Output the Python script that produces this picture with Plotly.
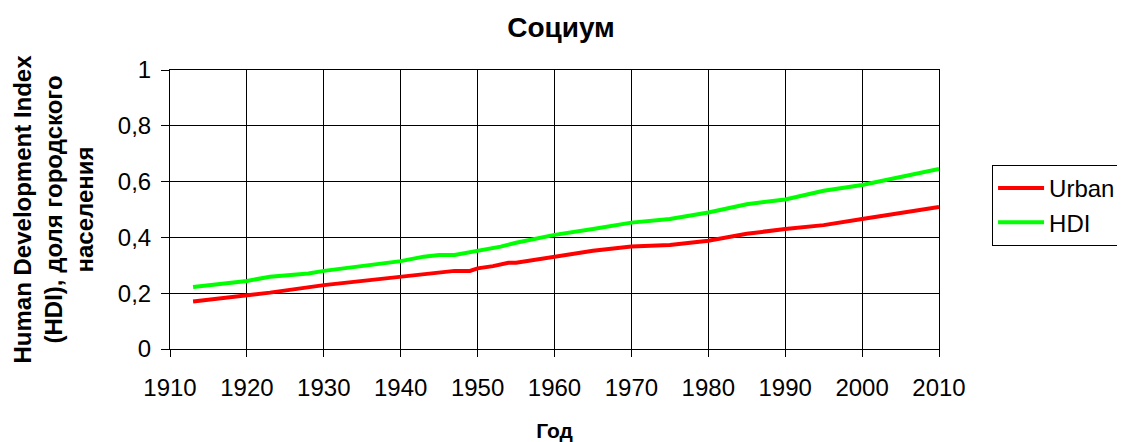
import plotly.graph_objects as go

# Data
urban_years = [1913, 1920, 1923, 1930, 1935, 1940, 1945, 1947, 1949, 1950, 1952, 1954,
               1955, 1960, 1965, 1970, 1975, 1980, 1985, 1990, 1995, 2000, 2010]
urban_values = [0.170, 0.192, 0.202, 0.229, 0.243, 0.257, 0.272, 0.280, 0.280, 0.289, 0.297, 0.309,
                0.309, 0.331, 0.352, 0.367, 0.373, 0.388, 0.413, 0.430, 0.444, 0.466, 0.509]

hdi_years = [1913, 1920, 1923, 1928, 1930, 1934, 1938, 1940, 1943, 1945, 1947, 1950,
             1953, 1955, 1960, 1965, 1970, 1975, 1980, 1985, 1990, 1995, 2000, 2010]
hdi_values = [0.222, 0.244, 0.259, 0.271, 0.280, 0.295, 0.307, 0.315, 0.331, 0.337, 0.337, 0.352,
              0.367, 0.381, 0.409, 0.430, 0.453, 0.466, 0.489, 0.519, 0.536, 0.567, 0.588, 0.645]

x_ticks = [1910, 1920, 1930, 1940, 1950, 1960, 1970, 1980, 1990, 2000, 2010]
y_ticks = [0, 0.2, 0.4, 0.6, 0.8, 1]
y_title_lines = ["Human Development Index", "(HDI), доля городского", "населения"]

FONT = "Liberation Sans, Arial, sans-serif"
# page body has an 8px margin, so the figure is drawn 8px smaller and offset
W, H = 1117, 434
PLOT_L, PLOT_W = 170, 769
y_title_px = [22, 53, 84]

fig = go.Figure()
fig.add_trace(go.Scatter(x=urban_years, y=urban_values, mode="lines", name="Urban",
                         line=dict(color="#ff0000", width=4)))
fig.add_trace(go.Scatter(x=hdi_years, y=hdi_values, mode="lines", name="HDI",
                         line=dict(color="#00ff00", width=4)))

annotations = [dict(text=f"<b>{t}</b>", xref="paper", yref="paper",
                    x=(px - PLOT_L) / PLOT_W, y=0.5, xanchor="center", yanchor="middle",
                    textangle=-90, showarrow=False,
                    font=dict(size=24, family=FONT, color="black"))
               for t, px in zip(y_title_lines, y_title_px)]

fig.update_layout(
    width=W, height=H,
    margin=dict(l=162, r=186, t=62, b=93, autoexpand=False),
    paper_bgcolor="white", plot_bgcolor="white",
    separators=", ",
    font=dict(family=FONT, size=24, color="black"),
    title=dict(text="<b>Социум</b>", x=(561 - 8) / W, xref="container", xanchor="center",
               y=1 - 19 / H, yref="container", yanchor="middle",
               font=dict(size=28, family=FONT, color="black")),
    showlegend=True,
    legend=dict(x=1.069, xanchor="left", y=0.6595, yanchor="top",
                bordercolor="black", borderwidth=1, bgcolor="white",
                itemwidth=46,
                font=dict(size=24, family=FONT, color="black")),
    xaxis=dict(range=[1910, 2010], tickvals=x_ticks, ticks="outside", ticklen=7,
               tickcolor="black", showline=True, linecolor="black", mirror=True,
               showgrid=True, gridcolor="black", gridwidth=1, zeroline=False,
               ticklabelstandoff=10, automargin=False,
               title=dict(text="<b>Год</b>", font=dict(size=21, family=FONT), standoff=28)),
    yaxis=dict(range=[0, 1], tickvals=y_ticks, ticks="outside", ticklen=8,
               tickcolor="black", showline=True, linecolor="black", mirror=True,
               showgrid=True, gridcolor="black", gridwidth=1, zeroline=False,
               ticklabelstandoff=5, automargin=False),
    annotations=annotations,
)

fig.write_html("out.html")
